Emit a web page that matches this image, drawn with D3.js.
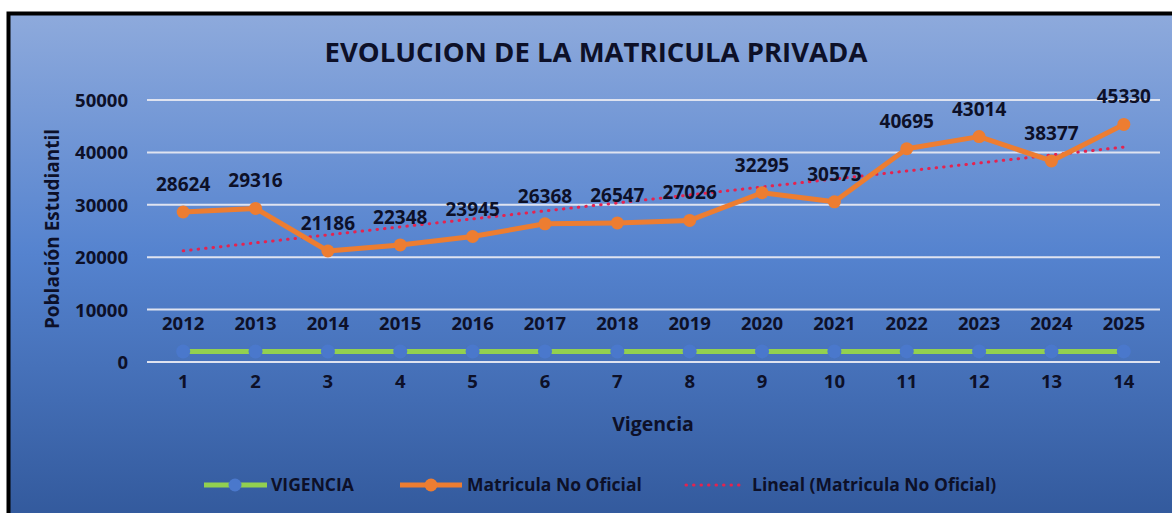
<!DOCTYPE html>
<meta charset="utf-8">
<title>Evolucion de la matricula privada</title>
<style>
	body {
		margin: 0;
		background: #fff;
	}

	svg text {
		font-family: 'Open Sans', sans-serif;
		font-weight: bold;
		fill: #0d1028;
	}
</style>

<body>
	<div id="chart"></div>

	<script src="https://d3js.org/d3.v7.min.js"></script>
	<script>
		// les données du graphique
		var categorias = [1, 2, 3, 4, 5, 6, 7, 8, 9, 10, 11, 12, 13, 14];
		var vigencia = [2012, 2013, 2014, 2015, 2016, 2017, 2018, 2019, 2020, 2021, 2022, 2023, 2024, 2025];
		var matricula = [28624, 29316, 21186, 22348, 23945, 26368, 26547, 27026, 32295, 30575, 40695, 43014, 38377, 45330];
		var ticksY = [0, 10000, 20000, 30000, 40000, 50000];

		var width = 1172,
			height = 513;

		var svg = d3.select("#chart").append("svg")
			.attr("width", width)
			.attr("height", height);

		// fond en dégradé
		var grad = svg.append("defs").append("linearGradient")
			.attr("id", "fond")
			.attr("x1", 0).attr("y1", 0)
			.attr("x2", 0).attr("y2", 1);
		grad.append("stop").attr("offset", "0%").attr("stop-color", "#8eaadc");
		grad.append("stop").attr("offset", "45%").attr("stop-color", "#5583cf");
		grad.append("stop").attr("offset", "100%").attr("stop-color", "#2f5597");

		svg.append("rect")
			.attr("x", 8.5)
			.attr("y", 13.5)
			.attr("width", width + 20)
			.attr("height", height + 20)
			.attr("fill", "url(#fond)")
			.attr("stroke", "#000")
			.attr("stroke-width", 4);

		// échelles
		var x = d3.scaleBand()
			.domain(categorias)
			.range([147, 1160]);

		var y = d3.scaleLinear()
			.domain([0, 50000])
			.range([362, 100]);

		function cx(i) {
			return x(categorias[i]) + x.bandwidth() / 2;
		}

		// titre
		svg.append("text")
			.attr("x", 596)
			.attr("y", 62)
			.attr("text-anchor", "middle")
			.style("font-size", "27.5px")
			.text("EVOLUCION DE LA MATRICULA PRIVADA");

		// lignes de la grille
		svg.append("g")
			.selectAll("line")
			.data(ticksY)
			.join("line")
			.attr("x1", 147)
			.attr("x2", 1160)
			.attr("y1", function (d) { return y(d); })
			.attr("y2", function (d) { return y(d); })
			.attr("stroke", "#dfe3f0")
			.attr("stroke-width", 2);

		// axe Y
		var axeY = svg.append("g")
			.attr("transform", "translate(128,0)")
			.call(d3.axisLeft(y).tickValues(ticksY).tickSize(0).tickPadding(0).tickFormat(d3.format("d")));
		axeY.select(".domain").remove();
		axeY.selectAll("text")
			.style("font-size", "18.5px")
			.attr("dy", "0.35em");

		// axe X
		var axeX = svg.append("g")
			.attr("transform", "translate(0,377)")
			.call(d3.axisBottom(x).tickSize(0).tickPadding(0));
		axeX.select(".domain").remove();
		axeX.selectAll("text")
			.style("font-size", "18.5px")
			.attr("dy", "0.6em");

		// titres des axes
		svg.append("text")
			.attr("x", 653)
			.attr("y", 431)
			.attr("text-anchor", "middle")
			.style("font-size", "19.5px")
			.text("Vigencia");

		svg.append("text")
			.attr("transform", "translate(59,229) rotate(-90)")
			.attr("text-anchor", "middle")
			.style("font-size", "19px")
			.text("Población Estudiantil");

		// ligne de tendance (régression linéaire)
		var n = matricula.length;
		var mx = d3.mean(categorias),
			my = d3.mean(matricula);
		var sxy = d3.sum(categorias, function (c, i) { return (c - mx) * (matricula[i] - my); });
		var sxx = d3.sum(categorias, function (c) { return (c - mx) * (c - mx); });
		var pente = sxy / sxx,
			origine = my - pente * mx;

		svg.append("line")
			.attr("x1", cx(0))
			.attr("y1", y(origine + pente * categorias[0]))
			.attr("x2", cx(n - 1))
			.attr("y2", y(origine + pente * categorias[n - 1]))
			.attr("stroke", "#e5234f")
			.attr("stroke-width", 3)
			.attr("stroke-linecap", "round")
			.attr("stroke-dasharray", "0.5,7");

		var ligne = d3.line()
			.x(function (d, i) { return cx(i); })
			.y(function (d) { return y(d); });

		// série VIGENCIA
		svg.append("path")
			.datum(vigencia)
			.attr("d", ligne)
			.attr("fill", "none")
			.attr("stroke", "#92d050")
			.attr("stroke-width", 5);

		svg.append("g")
			.selectAll("circle")
			.data(vigencia)
			.join("circle")
			.attr("cx", function (d, i) { return cx(i); })
			.attr("cy", function (d) { return y(d); })
			.attr("r", 7)
			.attr("fill", "#4a78cc");

		svg.append("g")
			.selectAll("text")
			.data(vigencia)
			.join("text")
			.attr("x", function (d, i) { return cx(i); })
			.attr("y", function (d) { return y(d) - 21; })
			.attr("text-anchor", "middle")
			.style("font-size", "18.5px")
			.text(function (d) { return d; });

		// série Matricula No Oficial
		svg.append("path")
			.datum(matricula)
			.attr("d", ligne)
			.attr("fill", "none")
			.attr("stroke", "#ed7d31")
			.attr("stroke-width", 5)
			.attr("stroke-linejoin", "round");

		svg.append("g")
			.selectAll("circle")
			.data(matricula)
			.join("circle")
			.attr("cx", function (d, i) { return cx(i); })
			.attr("cy", function (d) { return y(d); })
			.attr("r", 6.5)
			.attr("fill", "#ed7d31");

		svg.append("g")
			.selectAll("text")
			.data(matricula)
			.join("text")
			.attr("x", function (d, i) { return cx(i); })
			.attr("y", function (d) { return y(d) - 21; })
			.attr("text-anchor", "middle")
			.style("font-size", "19px")
			.text(function (d) { return d; });

		// légende
		var legende = svg.append("g").attr("transform", "translate(0,485)");

		legende.append("line")
			.attr("x1", 204).attr("x2", 267).attr("y1", 0).attr("y2", 0)
			.attr("stroke", "#92d050").attr("stroke-width", 5);
		legende.append("circle")
			.attr("cx", 235).attr("cy", 0).attr("r", 6.5).attr("fill", "#4a78cc");
		legende.append("text")
			.attr("x", 271).attr("y", 0).attr("dy", "0.35em")
			.style("font-size", "17.5px")
			.text("VIGENCIA");

		legende.append("line")
			.attr("x1", 400).attr("x2", 462).attr("y1", 0).attr("y2", 0)
			.attr("stroke", "#ed7d31").attr("stroke-width", 5);
		legende.append("circle")
			.attr("cx", 431).attr("cy", 0).attr("r", 6.5).attr("fill", "#ed7d31");
		legende.append("text")
			.attr("x", 467).attr("y", 0).attr("dy", "0.35em")
			.style("font-size", "17.5px")
			.text("Matricula No Oficial");

		legende.append("line")
			.attr("x1", 686).attr("x2", 744).attr("y1", 0).attr("y2", 0)
			.attr("stroke", "#e5234f").attr("stroke-width", 3)
			.attr("stroke-linecap", "round")
			.attr("stroke-dasharray", "0.5,7");
		legende.append("text")
			.attr("x", 752).attr("y", 0).attr("dy", "0.35em")
			.style("font-size", "17.5px")
			.text("Lineal (Matricula No Oficial)");
	</script>
</body>
